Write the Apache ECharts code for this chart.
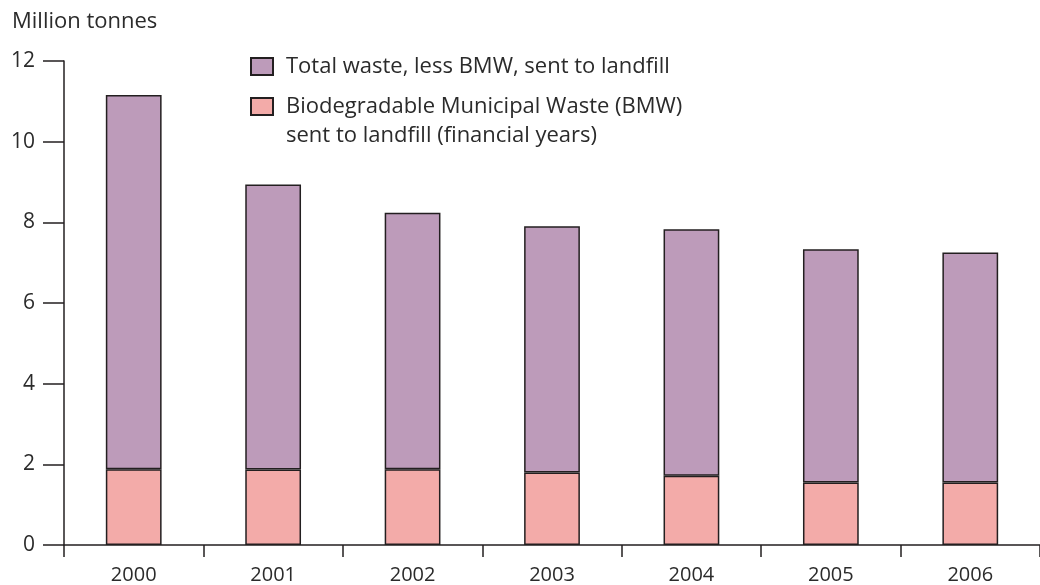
<!DOCTYPE html>
<html>
<head>
<meta charset="utf-8">
<script src="https://cdn.jsdelivr.net/npm/echarts@6/dist/echarts.min.js"></script>
<style>
  html, body { margin: 0; padding: 0; background: #fff; }
  #chart { width: 1040px; height: 585px; }
</style>
</head>
<body>
<div id="chart"></div>
<script>
// Waste sent to landfill, million tonnes
const years = ['2000', '2001', '2002', '2003', '2004', '2005', '2006'];
// Biodegradable Municipal Waste (BMW) sent to landfill (financial years)
const bmwLandfill = [1.88, 1.87, 1.88, 1.80, 1.72, 1.55, 1.55];
// Total waste, less BMW, sent to landfill
const otherLandfill = [9.28, 7.07, 6.36, 6.10, 6.11, 5.78, 5.70];
const yTicks = [0, 2, 4, 6, 8, 10, 12];

const FONT = '"Open Sans", "Noto Sans", sans-serif';
const INK = '#231F20';
const TEXT = '#2b2b2b';

const NAME_OTHER = 'Total waste, less BMW, sent to landfill';
const NAME_BMW = 'Biodegradable Municipal Waste (BMW)\nsent to landfill (financial years)';

const chart = echarts.init(document.getElementById('chart'), null, { renderer: 'canvas' });

chart.setOption({
  animation: false,
  backgroundColor: '#ffffff',
  textStyle: { fontFamily: FONT },
  grid: { left: 64, right: -3, top: 61, bottom: 38, containLabel: false },
  legend: {
    orient: 'vertical',
    left: 245,
    top: 47,
    itemWidth: 22,
    itemHeight: 17,
    itemGap: -18,
    icon: 'rect',
    data: [NAME_OTHER, NAME_BMW],
    // an empty leading line keeps the swatch level with the first line of a two-line label
    formatter: name => (name.indexOf('\n') >= 0 ? '\n' + name : name),
    textStyle: { fontFamily: FONT, fontSize: 22, color: TEXT, lineHeight: 29, padding: [0, 0, 0, 8] }
  },
  xAxis: {
    type: 'category',
    data: years,
    boundaryGap: true,
    axisLine: { lineStyle: { color: INK, width: 1.5 } },
    axisTick: { show: true, length: 12, inside: false, lineStyle: { color: INK, width: 1.5 } },
    axisLabel: { fontFamily: FONT, fontSize: 20, color: TEXT, margin: 20 }
  },
  yAxis: {
    type: 'value',
    min: yTicks[0],
    max: yTicks[yTicks.length - 1],
    interval: 2,
    name: 'Million tonnes',
    nameLocation: 'end',
    nameGap: 0,
    nameTextStyle: { fontFamily: FONT, fontSize: 22, color: TEXT, align: 'left', verticalAlign: 'bottom', padding: [0, 0, 28, -52] },
    axisLine: { show: true, lineStyle: { color: INK, width: 1.5 } },
    axisTick: { show: true, length: 21, lineStyle: { color: INK, width: 1.5 } },
    axisLabel: { fontFamily: FONT, fontSize: 21, color: TEXT, margin: 29 },
    splitLine: { show: false }
  },
  series: [
    {
      name: NAME_BMW,
      type: 'bar',
      stack: 'landfill',
      data: bmwLandfill,
      barWidth: '40%',
      itemStyle: { color: '#F3ABA9', borderColor: INK, borderWidth: 1.5 }
    },
    {
      name: NAME_OTHER,
      type: 'bar',
      stack: 'landfill',
      data: otherLandfill,
      barWidth: '40%',
      itemStyle: { color: '#BD9BBA', borderColor: INK, borderWidth: 1.5 }
    }
  ]
});
</script>
</body>
</html>
